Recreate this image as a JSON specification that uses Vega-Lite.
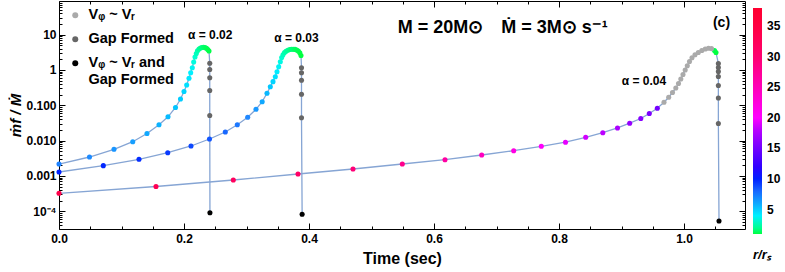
{
  "$schema": "https://vega.github.io/schema/vega-lite/v6.json",
  "width": 686,
  "height": 228,
  "autosize": {"type": "none"},
  "padding": {"left": 59, "top": 1, "right": 40, "bottom": 43},
  "config": {
    "font": "Liberation Sans",
    "view": {"stroke": "black", "strokeWidth": 1},
    "axis": {"grid": false, "domainColor": "black", "tickColor": "black", "labelColor": "black", "titleColor": "black", "labelFontWeight": "bold", "labelFontSize": 12, "labelOverlap": false, "labelFlush": false, "tickWidth": 1}
  },
  "datasets": {
    "pts": [
      {"curve": "a2", "i": 1, "t": 0, "m": 0.00217, "r": 7.2, "kind": "c"},
      {"curve": "a2", "i": 2, "t": 0.0488, "m": 0.00343, "r": 6.9, "kind": "c"},
      {"curve": "a2", "i": 3, "t": 0.088, "m": 0.00567, "r": 6.6, "kind": "c"},
      {"curve": "a2", "i": 4, "t": 0.118, "m": 0.0093, "r": 6.3, "kind": "c"},
      {"curve": "a2", "i": 5, "t": 0.1408, "m": 0.0159, "r": 6.0, "kind": "c"},
      {"curve": "a2", "i": 6, "t": 0.16, "m": 0.028, "r": 5.7, "kind": "c"},
      {"curve": "a2", "i": 7, "t": 0.1744, "m": 0.0472, "r": 5.4, "kind": "c"},
      {"curve": "a2", "i": 8, "t": 0.1864, "m": 0.0866, "r": 5.1, "kind": "c"},
      {"curve": "a2", "i": 9, "t": 0.1944, "m": 0.151, "r": 4.9, "kind": "c"},
      {"curve": "a2", "i": 10, "t": 0.2, "m": 0.246, "r": 4.7, "kind": "c"},
      {"curve": "a2", "i": 11, "t": 0.2043, "m": 0.376, "r": 4.4, "kind": "c"},
      {"curve": "a2", "i": 12, "t": 0.208, "m": 0.582, "r": 4.2, "kind": "c"},
      {"curve": "a2", "i": 13, "t": 0.2107, "m": 0.839, "r": 4.0, "kind": "c"},
      {"curve": "a2", "i": 14, "t": 0.2133, "m": 1.16, "r": 3.7, "kind": "c"},
      {"curve": "a2", "i": 15, "t": 0.2155, "m": 1.69, "r": 3.3, "kind": "c"},
      {"curve": "a2", "i": 16, "t": 0.2176, "m": 2.33, "r": 3.0, "kind": "c"},
      {"curve": "a2", "i": 17, "t": 0.2197, "m": 2.93, "r": 2.7, "kind": "c"},
      {"curve": "a2", "i": 18, "t": 0.2216, "m": 3.5, "r": 2.5, "kind": "c"},
      {"curve": "a2", "i": 19, "t": 0.224, "m": 3.94, "r": 2.2, "kind": "c"},
      {"curve": "a2", "i": 20, "t": 0.2264, "m": 4.2, "r": 2.0, "kind": "c"},
      {"curve": "a2", "i": 21, "t": 0.2288, "m": 4.34, "r": 1.8, "kind": "c"},
      {"curve": "a2", "i": 22, "t": 0.2312, "m": 4.4, "r": 1.6, "kind": "c"},
      {"curve": "a2", "i": 23, "t": 0.2336, "m": 4.31, "r": 1.4, "kind": "c"},
      {"curve": "a2", "i": 24, "t": 0.236, "m": 4.12, "r": 1.3, "kind": "c"},
      {"curve": "a2", "i": 25, "t": 0.2381, "m": 3.81, "r": 1.2, "kind": "c"},
      {"curve": "a2", "i": 26, "t": 0.24, "m": 3.45, "r": 1.1, "kind": "c"},
      {"curve": "a2", "i": 27, "t": 0.2412, "m": 1.55, "kind": "g"},
      {"curve": "a2", "i": 28, "t": 0.2412, "m": 1.03, "kind": "g"},
      {"curve": "a2", "i": 29, "t": 0.2412, "m": 0.601, "kind": "g"},
      {"curve": "a2", "i": 30, "t": 0.2412, "m": 0.263, "kind": "g"},
      {"curve": "a2", "i": 31, "t": 0.2412, "m": 0.0514, "kind": "g"},
      {"curve": "a2", "i": 32, "t": 0.2415, "m": 0.0000907, "kind": "b"},
      {"curve": "a3", "i": 1, "t": 0, "m": 0.00129, "r": 10, "kind": "c"},
      {"curve": "a3", "i": 2, "t": 0.0709, "m": 0.00195, "r": 9.8, "kind": "c"},
      {"curve": "a3", "i": 3, "t": 0.128, "m": 0.00295, "r": 9.6, "kind": "c"},
      {"curve": "a3", "i": 4, "t": 0.174, "m": 0.00454, "r": 9.3, "kind": "c"},
      {"curve": "a3", "i": 5, "t": 0.2112, "m": 0.00703, "r": 8.9, "kind": "c"},
      {"curve": "a3", "i": 6, "t": 0.2408, "m": 0.0111, "r": 8.5, "kind": "c"},
      {"curve": "a3", "i": 7, "t": 0.2661, "m": 0.0175, "r": 8.0, "kind": "c"},
      {"curve": "a3", "i": 8, "t": 0.2853, "m": 0.0282, "r": 7.5, "kind": "c"},
      {"curve": "a3", "i": 9, "t": 0.3019, "m": 0.0457, "r": 7.0, "kind": "c"},
      {"curve": "a3", "i": 10, "t": 0.3152, "m": 0.077, "r": 6.5, "kind": "c"},
      {"curve": "a3", "i": 11, "t": 0.3251, "m": 0.1265, "r": 6.0, "kind": "c"},
      {"curve": "a3", "i": 12, "t": 0.3328, "m": 0.219, "r": 5.5, "kind": "c"},
      {"curve": "a3", "i": 13, "t": 0.3381, "m": 0.336, "r": 5.0, "kind": "c"},
      {"curve": "a3", "i": 14, "t": 0.3424, "m": 0.467, "r": 4.7, "kind": "c"},
      {"curve": "a3", "i": 15, "t": 0.3461, "m": 0.646, "r": 4.4, "kind": "c"},
      {"curve": "a3", "i": 16, "t": 0.3488, "m": 0.895, "r": 4.1, "kind": "c"},
      {"curve": "a3", "i": 17, "t": 0.3515, "m": 1.24, "r": 3.8, "kind": "c"},
      {"curve": "a3", "i": 18, "t": 0.3541, "m": 1.72, "r": 3.4, "kind": "c"},
      {"curve": "a3", "i": 19, "t": 0.3563, "m": 2.26, "r": 3.0, "kind": "c"},
      {"curve": "a3", "i": 20, "t": 0.3584, "m": 2.7, "r": 2.7, "kind": "c"},
      {"curve": "a3", "i": 21, "t": 0.3608, "m": 3.13, "r": 2.5, "kind": "c"},
      {"curve": "a3", "i": 22, "t": 0.3632, "m": 3.41, "r": 2.3, "kind": "c"},
      {"curve": "a3", "i": 23, "t": 0.3661, "m": 3.64, "r": 2.1, "kind": "c"},
      {"curve": "a3", "i": 24, "t": 0.369, "m": 3.81, "r": 1.9, "kind": "c"},
      {"curve": "a3", "i": 25, "t": 0.3718, "m": 3.88, "r": 1.7, "kind": "c"},
      {"curve": "a3", "i": 26, "t": 0.3747, "m": 3.88, "r": 1.6, "kind": "c"},
      {"curve": "a3", "i": 27, "t": 0.3776, "m": 3.83, "r": 1.4, "kind": "c"},
      {"curve": "a3", "i": 28, "t": 0.3803, "m": 3.69, "r": 1.3, "kind": "c"},
      {"curve": "a3", "i": 29, "t": 0.3829, "m": 3.45, "r": 1.2, "kind": "c"},
      {"curve": "a3", "i": 30, "t": 0.3853, "m": 3.07, "r": 1.1, "kind": "c"},
      {"curve": "a3", "i": 31, "t": 0.3872, "m": 2.58, "r": 1.0, "kind": "c"},
      {"curve": "a3", "i": 32, "t": 0.388, "m": 1.16, "kind": "g"},
      {"curve": "a3", "i": 33, "t": 0.388, "m": 0.839, "kind": "g"},
      {"curve": "a3", "i": 34, "t": 0.388, "m": 0.511, "kind": "g"},
      {"curve": "a3", "i": 35, "t": 0.388, "m": 0.205, "kind": "g"},
      {"curve": "a3", "i": 36, "t": 0.388, "m": 0.0445, "kind": "g"},
      {"curve": "a3", "i": 37, "t": 0.389, "m": 0.0000817, "kind": "b"},
      {"curve": "a4", "i": 1, "t": 0, "m": 0.000321, "r": 34, "kind": "c"},
      {"curve": "a4", "i": 2, "t": 0.1552, "m": 0.000501, "r": 33, "kind": "c"},
      {"curve": "a4", "i": 3, "t": 0.2789, "m": 0.000766, "r": 32, "kind": "c"},
      {"curve": "a4", "i": 4, "t": 0.3824, "m": 0.00113, "r": 31, "kind": "c"},
      {"curve": "a4", "i": 5, "t": 0.4704, "m": 0.00157, "r": 29.5, "kind": "c"},
      {"curve": "a4", "i": 6, "t": 0.5493, "m": 0.00217, "r": 28, "kind": "c"},
      {"curve": "a4", "i": 7, "t": 0.6176, "m": 0.00288, "r": 26.5, "kind": "c"},
      {"curve": "a4", "i": 8, "t": 0.6763, "m": 0.00391, "r": 24.5, "kind": "c"},
      {"curve": "a4", "i": 9, "t": 0.7275, "m": 0.00517, "r": 22, "kind": "c"},
      {"curve": "a4", "i": 10, "t": 0.7717, "m": 0.0069, "r": 20.2, "kind": "c"},
      {"curve": "a4", "i": 11, "t": 0.8104, "m": 0.00901, "r": 19.3, "kind": "c"},
      {"curve": "a4", "i": 12, "t": 0.8427, "m": 0.0124, "r": 18.7, "kind": "c"},
      {"curve": "a4", "i": 13, "t": 0.8701, "m": 0.0167, "r": 18.1, "kind": "c"},
      {"curve": "a4", "i": 14, "t": 0.8936, "m": 0.0228, "r": 17.5, "kind": "c"},
      {"curve": "a4", "i": 15, "t": 0.9131, "m": 0.0311, "r": 16.6, "kind": "c"},
      {"curve": "a4", "i": 16, "t": 0.9309, "m": 0.0423, "r": 16.0, "kind": "c"},
      {"curve": "a4", "i": 17, "t": 0.9445, "m": 0.0586, "r": 15.5, "kind": "c"},
      {"curve": "a4", "i": 18, "t": 0.9573, "m": 0.0828, "r": 15.2, "kind": "c"},
      {"curve": "a4", "i": 19, "t": 0.968, "m": 0.1216, "kind": "v"},
      {"curve": "a4", "i": 20, "t": 0.9755, "m": 0.1695, "kind": "v"},
      {"curve": "a4", "i": 21, "t": 0.9816, "m": 0.2305, "kind": "v"},
      {"curve": "a4", "i": 22, "t": 0.9869, "m": 0.309, "kind": "v"},
      {"curve": "a4", "i": 23, "t": 0.9912, "m": 0.415, "kind": "v"},
      {"curve": "a4", "i": 24, "t": 0.9949, "m": 0.556, "kind": "v"},
      {"curve": "a4", "i": 25, "t": 0.9984, "m": 0.746, "kind": "v"},
      {"curve": "a4", "i": 26, "t": 1.0019, "m": 1.0, "kind": "v"},
      {"curve": "a4", "i": 27, "t": 1.0053, "m": 1.32, "kind": "v"},
      {"curve": "a4", "i": 28, "t": 1.0088, "m": 1.74, "kind": "v"},
      {"curve": "a4", "i": 29, "t": 1.0128, "m": 2.22, "kind": "v"},
      {"curve": "a4", "i": 30, "t": 1.0176, "m": 2.7, "kind": "v"},
      {"curve": "a4", "i": 31, "t": 1.0229, "m": 3.13, "kind": "v"},
      {"curve": "a4", "i": 32, "t": 1.0285, "m": 3.57, "kind": "v"},
      {"curve": "a4", "i": 33, "t": 1.034, "m": 3.94, "kind": "v"},
      {"curve": "a4", "i": 34, "t": 1.0392, "m": 4.12, "kind": "v"},
      {"curve": "a4", "i": 35, "t": 1.044, "m": 4.04, "kind": "v"},
      {"curve": "a4", "i": 36, "t": 1.0488, "m": 3.57, "r": 1.2, "kind": "c"},
      {"curve": "a4", "i": 37, "t": 1.0512, "m": 3.13, "r": 1.0, "kind": "c"},
      {"curve": "a4", "i": 38, "t": 1.055, "m": 1.53, "kind": "g"},
      {"curve": "a4", "i": 39, "t": 1.055, "m": 1.18, "kind": "g"},
      {"curve": "a4", "i": 40, "t": 1.055, "m": 0.907, "kind": "g"},
      {"curve": "a4", "i": 41, "t": 1.055, "m": 0.655, "kind": "g"},
      {"curve": "a4", "i": 42, "t": 1.055, "m": 0.364, "kind": "g"},
      {"curve": "a4", "i": 43, "t": 1.055, "m": 0.161, "kind": "g"},
      {"curve": "a4", "i": 44, "t": 1.055, "m": 0.0305, "kind": "g"},
      {"curve": "a4", "i": 45, "t": 1.056, "m": 0.0000528, "kind": "b"}
    ]
  },
  "layer": [
    {
      "data": {"name": "pts"},
      "mark": {"type": "line", "color": "#86a5d4", "strokeWidth": 1.3},
      "encoding": {
        "x": {"field": "t", "type": "quantitative", "scale": {"domain": [0, 1.0976], "nice": false, "zero": false},
          "axis": {"orient": "bottom", "values": [0, 0.2, 0.4, 0.6, 0.8, 1.0], "format": ".1f", "tickSize": -6, "labelPadding": 10, "title": "Time (sec)", "titleFontSize": 16, "titleFontWeight": "bold", "titlePadding": 6, "domain": false}},
        "y": {"field": "m", "type": "quantitative", "scale": {"type": "log", "domain": [0.0000313, 90.1], "nice": false},
          "axis": {"orient": "left", "values": [0.0001, 0.001, 0.01, 0.1, 1, 10], "labelExpr": "datum.value < 0.0005 ? '10⁻⁴' : datum.value < 0.005 ? '0.001' : datum.value < 0.05 ? '0.010' : datum.value < 0.5 ? '0.100' : datum.value < 5 ? '1' : '10'", "tickSize": -6, "labelPadding": 9, "title": "ṁf / Ṁ", "titleFontSize": 15, "titleFontWeight": "bold", "titleFontStyle": "italic", "titlePadding": 2, "domain": false}},
        "detail": {"field": "curve"},
        "order": {"field": "i", "type": "quantitative"}
      }
    },
    {
      "data": {"name": "pts"},
      "transform": [{"filter": "datum.kind == 'c'"}],
      "mark": {"type": "circle", "size": 26, "opacity": 1},
      "encoding": {
        "x": {"field": "t", "type": "quantitative",
          "axis": {"orient": "bottom", "values": [0.05, 0.1, 0.15, 0.25, 0.3, 0.35, 0.45, 0.5, 0.55, 0.65, 0.7, 0.75, 0.85, 0.9, 0.95, 1.05], "labels": false, "tickSize": -3, "title": null, "domain": false}},
        "y": {"field": "m", "type": "quantitative",
          "axis": {"orient": "left", "values": [0.00004, 0.00005, 0.00006, 0.00007, 0.00008, 0.00009, 0.0002, 0.0003, 0.0004, 0.0005, 0.0006, 0.0007, 0.0008, 0.0009, 0.002, 0.003, 0.004, 0.005, 0.006, 0.007, 0.008, 0.009, 0.02, 0.03, 0.04, 0.05, 0.06, 0.07, 0.08, 0.09, 0.2, 0.3, 0.4, 0.5, 0.6, 0.7, 0.8, 0.9, 2, 3, 4, 5, 6, 7, 8, 9, 20, 30, 40, 50, 60, 70, 80], "labels": false, "tickSize": -3, "title": null, "domain": false}},
        "color": {"field": "r", "type": "quantitative",
          "scale": {"domain": [1, 2, 3, 4, 5, 6, 7, 8, 10, 12, 15, 18, 20, 25, 30, 35, 38],
                    "range": ["#00ff40", "#00ff90", "#00ffd0", "#00f0ff", "#00c8ff", "#10a8ff", "#2088ff", "#1868ff", "#0020ff", "#3000ff", "#7000ff", "#b800ff", "#ff00ff", "#ff00b8", "#ff0070", "#ff0040", "#ff0030"],
                    "interpolate": "rgb"},
          "legend": {"orient": "none", "legendX": 694, "legendY": 7, "direction": "vertical", "gradientLength": 226, "gradientThickness": 9, "gradientStrokeWidth": 0, "values": [5, 10, 15, 20, 25, 30, 35], "title": "r/rₛ", "titleOrient": "bottom", "titleFontStyle": "italic", "titleFontWeight": "bold", "titleFontSize": 13, "titlePadding": 15, "titleColor": "black", "labelFontSize": 12, "labelFontWeight": "bold", "labelColor": "black", "labelOffset": 5, "labelOverlap": false}}
      }
    },
    {
      "data": {"name": "pts"},
      "transform": [{"filter": "datum.kind != 'c'"}],
      "mark": {"type": "circle", "size": 26, "opacity": 1},
      "encoding": {
        "x": {"field": "t", "type": "quantitative",
          "axis": {"orient": "top", "values": [0, 0.2, 0.4, 0.6, 0.8, 1.0], "labels": false, "tickSize": -6, "title": null, "domain": false}},
        "y": {"field": "m", "type": "quantitative",
          "axis": {"orient": "right", "values": [0.0001, 0.001, 0.01, 0.1, 1, 10], "labels": false, "tickSize": -6, "title": null, "domain": false}},
        "fill": {"field": "kind", "type": "nominal",
          "scale": {"domain": ["v", "g", "b"], "range": ["#aaaaaa", "#666666", "#000000"]},
          "legend": {"orient": "none", "legendX": 9, "legendY": 7, "title": null, "symbolType": "circle", "symbolSize": 36, "symbolStrokeWidth": 0, "labelFontSize": 14.5, "labelFontWeight": "bold", "labelColor": "black", "labelOffset": 6, "rowPadding": 9, "labelLimit": 300,
            "labelExpr": "datum.value == 'v' ? 'Vᵩ ~ Vᵣ' : datum.value == 'g' ? 'Gap Formed' : ['Vᵩ ~ Vᵣ and', 'Gap Formed']"}}
      }
    },
    {
      "data": {"values": [
        {"t": 0.242, "m": 9.8, "label": "α = 0.02"},
        {"t": 0.38, "m": 7.9, "label": "α = 0.03"},
        {"t": 0.936, "m": 0.49, "label": "α = 0.04"}
      ]},
      "mark": {"type": "text", "fontSize": 12, "fontWeight": "bold", "align": "center", "baseline": "middle", "color": "black"},
      "encoding": {
        "x": {"field": "t", "type": "quantitative",
          "axis": {"orient": "top", "values": [0.05, 0.1, 0.15, 0.25, 0.3, 0.35, 0.45, 0.5, 0.55, 0.65, 0.7, 0.75, 0.85, 0.9, 0.95, 1.05], "labels": false, "tickSize": -3, "title": null, "domain": false}},
        "y": {"field": "m", "type": "quantitative",
          "axis": {"orient": "right", "values": [0.00004, 0.00005, 0.00006, 0.00007, 0.00008, 0.00009, 0.0002, 0.0003, 0.0004, 0.0005, 0.0006, 0.0007, 0.0008, 0.0009, 0.002, 0.003, 0.004, 0.005, 0.006, 0.007, 0.008, 0.009, 0.02, 0.03, 0.04, 0.05, 0.06, 0.07, 0.08, 0.09, 0.2, 0.3, 0.4, 0.5, 0.6, 0.7, 0.8, 0.9, 2, 3, 4, 5, 6, 7, 8, 9, 20, 30, 40, 50, 60, 70, 80], "labels": false, "tickSize": -3, "title": null, "domain": false}},
        "text": {"field": "label"}
      }
    },
    {
      "data": {"values": [{"t": 0.71, "m": 15.5, "label": "M = 20M⊙\u2002\u2002Ṁ = 3M⊙ s⁻¹"}]},
      "mark": {"type": "text", "fontSize": 18, "fontWeight": "bold", "align": "center", "baseline": "middle", "color": "black"},
      "encoding": {
        "x": {"field": "t", "type": "quantitative", "axis": null},
        "y": {"field": "m", "type": "quantitative", "axis": null},
        "text": {"field": "label"}
      }
    },
    {
      "data": {"values": [{"t": 1.06, "m": 21.9, "label": "(c)"}]},
      "mark": {"type": "text", "fontSize": 14, "fontWeight": "bold", "align": "center", "baseline": "middle", "color": "black"},
      "encoding": {
        "x": {"field": "t", "type": "quantitative", "axis": null},
        "y": {"field": "m", "type": "quantitative", "axis": null},
        "text": {"field": "label"}
      }
    }
  ],
  "resolve": {"axis": {"x": "independent", "y": "independent"}}
}
